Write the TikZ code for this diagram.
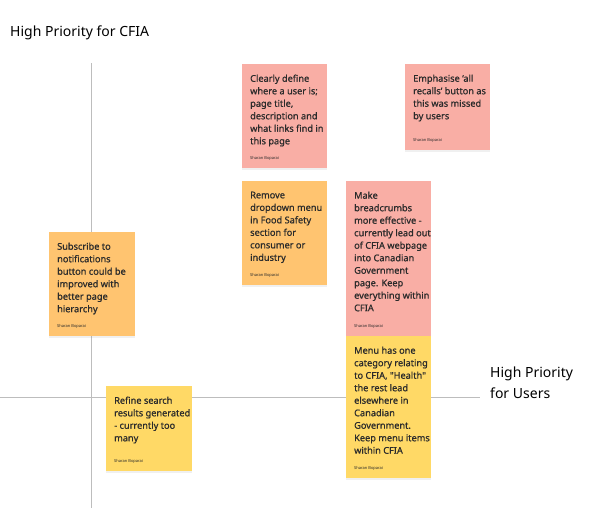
\documentclass[tikz,border=0pt]{standalone}
\usepackage{fontspec}
\setmainfont{Noto Sans}
\newfontfamily\notefont[FakeBold=0.9]{Noto Sans}
\usetikzlibrary{shadows}

\definecolor{pinknote}{HTML}{F9AEA5}
\definecolor{orangenote}{HTML}{FFC470}
\definecolor{yellownote}{HTML}{FFD966}
\definecolor{axisgray}{HTML}{BDBDBD}
\definecolor{inkdark}{HTML}{2B2B2B}

\tikzset{
  note/.style={rectangle, fill=#1, anchor=north west, inner sep=0,
    minimum width=85, drop shadow={opacity=0.12, shadow xshift=0pt, shadow yshift=-1.5pt}},
  notetext/.style={anchor=north west, inner sep=0, align=left, text=inkdark,
    font=\notefont\fontsize{9.2}{12.5}\selectfont},
  author/.style={anchor=west, inner sep=0, text=inkdark, font=\fontsize{4}{5}\selectfont},
  heading/.style={anchor=west, inner sep=0, align=left, text=black,
    font=\fontsize{14}{21}\selectfont},
}

\begin{document}
\begin{tikzpicture}[x=1pt, y=-1pt]
	\useasboundingbox (0,0) rectangle (602,509);
	% axes
	\coordinate (vtop) at (91,63);
	\coordinate (vbot) at (91,508);
	\coordinate (hleft) at (0,397);
	\coordinate (hright) at (480,397);
	\draw[axisgray, line width=0.9] (vtop) -- (vbot);
	\draw[axisgray, line width=0.9] (hleft) -- (hright);

	\node[heading] (cfia) at (10,33) {High Priority for CFIA};
	\node[heading] (users) at (490,383) {High Priority\\for Users};

	% sticky notes
	\node[note=pinknote,   minimum height=104] (n1) at (242,64)  {};
	\node[note=pinknote,   minimum height=86]  (n2) at (405,64)  {};
	\node[note=orangenote, minimum height=104] (n3) at (242,181) {};
	\node[note=pinknote,   minimum height=155] (n4) at (346,181) {};
	\node[note=yellownote, minimum height=142] (n5) at (346,336) {};
	\node[note=orangenote, minimum height=104, minimum width=86] (n6) at (49,232) {};
	\node[note=yellownote, minimum height=85,  minimum width=86] (n7) at (106,386) {};

	\node[notetext] (t1) at ([shift={(8,10.5)}]n1.north west)
		{Clearly define\\where a user is;\\page title,\\description and\\what links find in\\this page};
	\node[notetext] (t2) at ([shift={(8,10.5)}]n2.north west)
		{Emphasise ‘all\\recalls’ button as\\this was missed\\by users};
	\node[notetext] (t3) at ([shift={(8,10.5)}]n3.north west)
		{Remove\\dropdown menu\\in Food Safety\\section for\\consumer or\\industry};
	\node[notetext] (t4) at ([shift={(8,10.5)}]n4.north west)
		{Make\\breadcrumbs\\more effective -\\currently lead out\\of CFIA webpage\\into Canadian\\Government\\page. Keep\\everything within\\CFIA};
	\node[notetext] (t5) at ([shift={(8,10.5)}]n5.north west)
		{Menu has one\\category relating\\to CFIA, \textquotedbl Health\textquotedbl\\the rest lead\\elsewhere in\\Canadian\\Government.\\Keep menu items\\within CFIA};
	\node[notetext] (t6) at ([shift={(8,10.5)}]n6.north west)
		{Subscribe to\\notifications\\button could be\\improved with\\better page\\hierarchy};
	\node[notetext] (t7) at ([shift={(8,10.5)}]n7.north west)
		{Refine search\\results generated\\- currently too\\many};

	\foreach \n in {1,...,7}
	{	\node[author] (a\n) at ([shift={(8,-10)}]n\n.south west) {Sharan Boparai};
	}
\end{tikzpicture}
\end{document}
